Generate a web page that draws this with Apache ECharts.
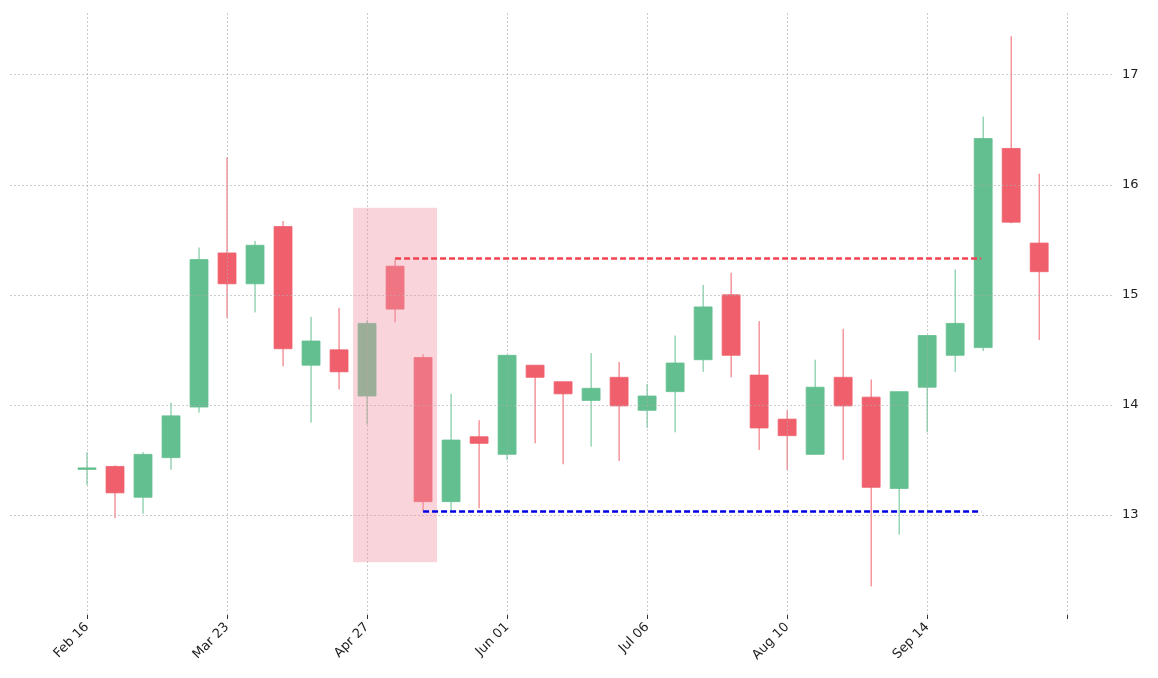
<!DOCTYPE html>
<html><head><meta charset="utf-8">
<script src="https://cdn.jsdelivr.net/npm/echarts@6/dist/echarts.min.js"></script>
<style>html,body{margin:0;padding:0;background:#fff}#c{width:1158px;height:678px}</style>
</head><body><div id="c"></div>
<script>
const opens  = [13.42,13.44,13.16,13.52,13.98,15.38,15.10,15.62,14.36,14.50,14.08,15.26,14.43,13.12,13.71,13.55,14.36,14.21,14.04,14.25,13.95,14.12,14.41,15.00,14.27,13.87,13.55,14.25,14.07,13.24,14.16,14.45,14.52,16.33,15.47];
const closes = [13.42,13.20,13.55,13.90,15.32,15.10,15.45,14.51,14.58,14.30,14.74,14.87,13.12,13.68,13.65,14.45,14.25,14.10,14.15,13.99,14.08,14.38,14.89,14.45,13.79,13.72,14.16,13.99,13.25,14.12,14.63,14.74,16.42,15.66,15.21];
const highs  = [13.57,13.45,13.57,14.02,15.43,16.25,15.49,15.67,14.80,14.88,14.77,15.32,14.46,14.10,13.86,14.45,14.36,14.21,14.47,14.39,14.19,14.63,15.09,15.20,14.76,13.95,14.41,14.69,14.23,14.12,14.63,15.23,16.62,17.35,16.10];
const lows   = [13.27,12.97,13.01,13.41,13.93,14.79,14.84,14.35,13.84,14.14,13.82,14.75,13.03,13.03,13.06,13.50,13.65,13.46,13.62,13.49,13.79,13.75,14.30,14.25,13.59,13.41,13.55,13.50,12.35,12.82,13.75,14.30,14.49,15.65,14.59];
const tickLabels = ["Feb 16","Mar 23","Apr 27","Jun 01","Jul 06","Aug 10","Sep 14",""];
const tickIdx = [0,5,10,15,20,25,30,35];
const yTicks = [13,14,15,16,17];
const resistance = 15.33, support = 13.03;
const zone = {x0:9.5, x1:12.5, y0:12.57, y1:15.79};

const candleData = opens.map((o,i)=>[i,o,closes[i],lows[i],highs[i]]);
const GREEN='#63bf8f', RED='#ef5f6c';
const grid = {color:'#aaa',type:[2,2],width:0.6};
const chart = echarts.init(document.getElementById('c'));
chart.setOption({
  animation:false,
  grid:{left:10,right:46,top:12,bottom:63},
  xAxis:{type:'value',min:-2.75,max:36.6,
    axisLine:{show:false},splitLine:{show:false},
    axisTick:{show:true,customValues:tickIdx,length:4,lineStyle:{color:'#333'}},
    axisLabel:{customValues:tickIdx,rotate:45,color:'#222',fontSize:13,fontFamily:'DejaVu Sans',margin:10,
      formatter:v=>{const k=tickIdx.indexOf(Math.round(v));return k>=0?tickLabels[k]:'';}}},
  yAxis:{type:'value',position:'right',min:12.09,max:17.57,
    axisLine:{show:false},splitLine:{show:false},axisTick:{show:false},
    axisLabel:{customValues:yTicks,color:'#222',fontSize:13,fontFamily:'DejaVu Sans',margin:10,
      formatter:v=>String(Math.round(v))}},
  series:[
    {type:'line',data:[],silent:true,
      markLine:{symbol:'none',silent:true,label:{show:false},lineStyle:grid,
        data:tickIdx.map(v=>({xAxis:v})).concat(yTicks.map(v=>({yAxis:v})))}},
    {type:'custom',data:candleData,z:3,
      renderItem:(params,api)=>{
        const i=api.value(0),o=api.value(1),c=api.value(2),l=api.value(3),h=api.value(4);
        const col=c>=o?GREEN:RED;
        const pl=api.coord([i,l]),ph=api.coord([i,h]);
        const po=api.coord([i-0.32,Math.max(o,c)]),pc=api.coord([i+0.32,Math.min(o,c)]);
        let hgt=pc[1]-po[1]; let y=po[1]; if(hgt<1.5){hgt=1.5;y-=0.75;}
        return {type:'group',children:[
          {type:'line',shape:{x1:pl[0],y1:pl[1],x2:ph[0],y2:ph[1]},style:{stroke:col,lineWidth:1}},
          {type:'rect',shape:{x:po[0],y:y,width:pc[0]-po[0],height:hgt},style:{fill:col,stroke:col,lineWidth:0.8}}
        ]};
      }},
    {type:'custom',data:[[zone.x0,zone.y0,zone.x1,zone.y1]],z:5,silent:true,
      renderItem:(params,api)=>{
        const a=api.coord([api.value(0),api.value(3)]),b=api.coord([api.value(2),api.value(1)]);
        return {type:'rect',shape:{x:a[0],y:a[1],width:b[0]-a[0],height:b[1]-a[1]},style:{fill:'rgba(240,150,165,0.4)'}};
      }},
    {type:'line',data:[[11,resistance],[31.93,resistance]],symbol:'none',z:6,
      lineStyle:{color:'#f24150',type:[6,3],width:2.4}},
    {type:'line',data:[[12,support],[31.93,support]],symbol:'none',z:6,
      lineStyle:{color:'#0000e6',type:[6,3],width:2.4}}
  ]
});
</script></body></html>
